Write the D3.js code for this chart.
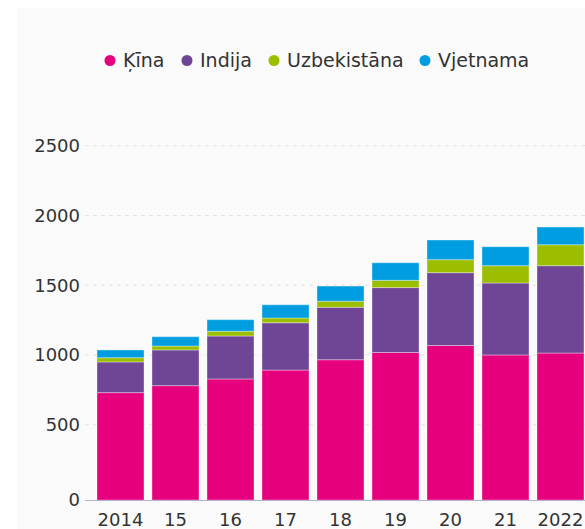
<!DOCTYPE html>
<html>
<head>
<meta charset="utf-8">
<style>
body { margin: 0; background: #fff; }
text { font-family: "DejaVu Sans", sans-serif; fill: #333; }
</style>
</head>
<body>
<svg width="585" height="529"></svg>
<script src="https://d3js.org/d3.v7.min.js"></script>
<script>

// data
var years = ["2014", "15", "16", "17", "18", "19", "20", "21", "2022"];
var kina = [730, 780, 828, 892, 966, 1018, 1068, 1000, 1014];
var indija = [220, 256, 308, 339, 376, 465, 522, 516, 626];
var uzbekistana = [30, 28, 34, 34, 43, 52, 93, 124, 150];
var vjetnama = [56, 67, 83, 95, 109, 126, 141, 136, 127];
var seriesNames = ["Ķīna", "Indija", "Uzbekistāna", "Vjetnama"];
var yTicks = [0, 500, 1000, 1500, 2000, 2500];

var colors = ["#e6007e", "#6f4596", "#9bbe00", "#009ee0"];
var seriesData = [kina, indija, uzbekistana, vjetnama];

var svg = d3.select("svg");

// light panel behind the chart
svg.append("rect")
    .attr("x", 17).attr("y", 8)
    .attr("width", 585 - 17).attr("height", 529 - 8)
    .attr("fill", "#fafafa");

var rows = years.map(function(y, i) {
  var r = { year: y };
  seriesNames.forEach(function(s, j) { r[s] = seriesData[j][i]; });
  return r;
});

var stack = d3.stack().keys(seriesNames);
var stacked = stack(rows);

var x = d3.scaleBand()
    .domain(years)
    .range([89, 592])
    .paddingInner(0.1455)
    .paddingOuter(0.1455);

var y = d3.scaleLinear()
    .domain([0, 2500])
    .range([494.5, 145.7]);

var baseY = 500;

// gridlines
var grid = svg.append("g");
grid.selectAll("line")
    .data(yTicks.filter(function(d) { return d > 0; }))
    .enter().append("line")
    .attr("x1", 85).attr("x2", 585)
    .attr("y1", function(d) { return y(d); })
    .attr("y2", function(d) { return y(d); })
    .attr("stroke", "#e3e3e8")
    .attr("stroke-dasharray", "4,4");

// y labels
svg.append("g").selectAll("text")
    .data(yTicks)
    .enter().append("text")
    .attr("x", 80)
    .attr("y", function(d) { return d === 0 ? baseY : y(d); })
    .attr("dy", "0.36em")
    .attr("text-anchor", "end")
    .style("font-size", "18px")
    .text(function(d) { return d; });

// bars
var layers = svg.append("g").selectAll("g")
    .data(stacked)
    .enter().append("g")
    .attr("fill", function(d, i) { return colors[i]; });

layers.selectAll("rect")
    .data(function(d) { return d; })
    .enter().append("rect")
    .attr("x", function(d) { return x(d.data.year); })
    .attr("width", x.bandwidth())
    .attr("y", function(d) { return y(d[1]); })
    .attr("height", function(d) {
      var bottom = d[0] === 0 ? baseY : y(d[0]);
      return bottom - y(d[1]);
    })
    .attr("stroke", "#fff")
    .attr("stroke-opacity", 0.35)
    .attr("stroke-width", 1);

// baseline
svg.append("line")
    .attr("x1", 85).attr("x2", 585)
    .attr("y1", baseY + 0.5).attr("y2", baseY + 0.5)
    .attr("stroke", "#b8afcc")
    .attr("stroke-width", 1);

// x labels
svg.append("g").selectAll("text")
    .data(years)
    .enter().append("text")
    .attr("x", function(d) { return x(d) + x.bandwidth() / 2; })
    .attr("y", 526)
    .attr("text-anchor", "middle")
    .style("font-size", "18px")
    .text(function(d) { return d; });

// legend
var legendX = [110, 187, 274, 425];
var legend = svg.append("g").selectAll("g")
    .data(seriesNames)
    .enter().append("g")
    .attr("transform", function(d, i) { return "translate(" + legendX[i] + ",60)"; });

legend.append("circle")
    .attr("r", 5.5)
    .attr("cy", 0.5)
    .attr("fill", function(d, i) { return colors[i]; });

legend.append("text")
    .attr("x", 13)
    .attr("dy", "0.36em")
    .style("font-size", "19px")
    .text(function(d) { return d; });

</script>
</body>
</html>
